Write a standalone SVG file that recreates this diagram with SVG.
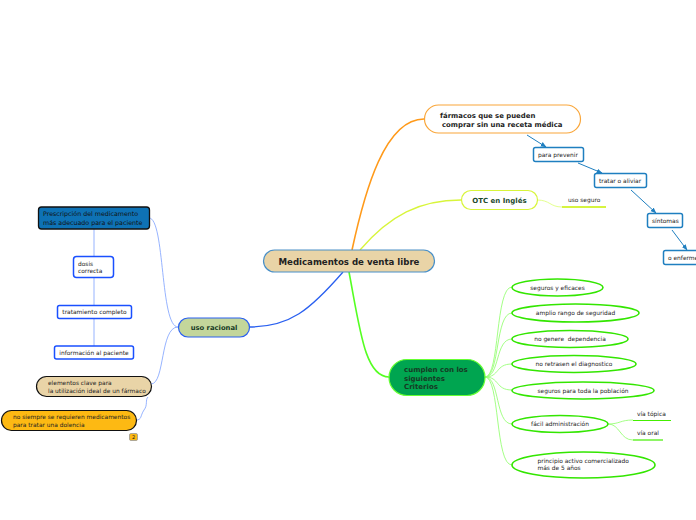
<svg xmlns="http://www.w3.org/2000/svg" width="696" height="520" viewBox="0 0 696 520">
<defs>
<marker id="arr" viewBox="0 0 10 10" refX="9" refY="5" markerWidth="6" markerHeight="6" orient="auto"><path d="M0,1 L10,5 L0,9 z" fill="#1f7fc0"/></marker>
<style>
text{font-family:"DejaVu Sans","Liberation Sans",sans-serif;fill:#222;}
.b{font-weight:bold;}
.s{font-size:5.9px;}
.m{font-size:6.3px;}
.blu{fill:#fff;stroke:#1f7fc0;stroke-width:1.5;}
.ell{fill:#fff;stroke:#33e600;stroke-width:1.6;}
.gc{fill:none;stroke:#99ff77;stroke-width:0.9;}
.bc{fill:none;stroke:#8aaaff;stroke-width:0.9;}
.ar{fill:none;stroke:#1f7fc0;stroke-width:1;marker-end:url(#arr);}
.lb{fill:#fff;stroke:#1a50ff;stroke-width:1.5;}
</style>
</defs>
<rect width="696" height="520" fill="#fff"/>
<g id="connectors">
<path d="M352,250 C365,190 385,119 424,119" fill="none" stroke="#ff9a1a" stroke-width="1.6"/>
<path d="M360,250 C390,215 420,200 461,200" fill="none" stroke="#d8f53a" stroke-width="1.3"/>
<path d="M349,272 C360,330 365,377 389,377" fill="none" stroke="#55ff22" stroke-width="1.6"/>
<path d="M343,272 C310,310 290,327 249,327" fill="none" stroke="#2a60f0" stroke-width="1.3"/>
<path d="M537,200 C550,200 550,207 562,207" fill="none" stroke="#e0ff80" stroke-width="0.9"/>
<path class="ar" d="M527,135 L546,147"/>
<path class="ar" d="M578,163 L602,173"/>
<path class="ar" d="M631,190 L656,213"/>
<path class="ar" d="M672,230 L687,250"/>
<path class="gc" d="M485,377 C500,377 495,287 512,287"/>
<path class="gc" d="M485,377 C500,377 495,313 512,313"/>
<path class="gc" d="M485,377 C500,377 495,339 512,339"/>
<path class="gc" d="M485,377 C500,377 495,364 512,364"/>
<path class="gc" d="M485,377 C500,377 495,390 512,390"/>
<path class="gc" d="M485,377 C500,377 495,424 512,424"/>
<path class="gc" d="M485,377 C500,377 495,465 512,465"/>
<path class="gc" d="M608,424 C620,424 620,420 633,420"/>
<path class="gc" d="M608,424 C620,424 620,440 633,440"/>
<path class="bc" d="M178,327 C160,327 165,218 149,218"/>
<path class="bc" d="M178,327 C160,327 165,384 151,384"/>
<path class="bc" d="M148,397 C145,400 148,405 144,410 C140,416 142,420 136,420"/>
<path class="bc" d="M94,229 L94,256 M94,277 L94,305 M94,318 L94,346"/>
</g>
<g id="central">
<rect x="263.5" y="250" width="171" height="22" rx="11" fill="#e9d4a7" stroke="#4a90c8" stroke-width="1.2"/>
<text x="349" y="264.5" text-anchor="middle" class="b" font-size="8.6">Medicamentos de venta libre</text>
</g>
<g id="farmacos">
<rect x="424.5" y="105" width="156" height="28" rx="14" fill="#fff" stroke="#f9a63a" stroke-width="1.2"/>
<text x="440" y="118" class="b" font-size="6.9">fármacos que se pueden</text>
<text x="442" y="127" class="b" font-size="6.9">comprar sin una receta médica</text>
</g>
<g id="prevenir"><rect class="blu" x="533.5" y="147.5" width="50" height="14" rx="2"/><text x="538" y="157" class="s">para prevenir</text></g>
<g id="tratar"><rect class="blu" x="594.5" y="173.5" width="52" height="14" rx="2"/><text x="599" y="183" class="s">tratar o aliviar</text></g>
<g id="sintomas"><rect class="blu" x="647.5" y="213.5" width="35" height="14" rx="2"/><text x="652" y="223" class="s">síntomas</text></g>
<g id="enfermedades"><rect class="blu" x="663.5" y="250.5" width="60" height="14" rx="2"/><text x="668" y="260" class="s">o enfermedades</text></g>
<g id="otc">
<rect x="461.5" y="190.5" width="76" height="19" rx="9.5" fill="#fff" stroke="#d8f53a" stroke-width="1.2"/>
<text x="499.5" y="203" text-anchor="middle" class="b" font-size="7" style="fill:#1c4a2c">OTC en Inglés</text>
</g>
<g id="usoseguro"><text x="568" y="202" class="s">uso seguro</text><line x1="562" y1="207" x2="606" y2="207" stroke="#c8f000" stroke-width="1.3"/></g>
<g id="cumplen">
<rect x="389" y="359.5" width="96" height="36" rx="18" fill="#00a550" stroke="#66ff33" stroke-width="1.2"/>
<text x="404" y="372" class="b" font-size="7" style="fill:#163a24">cumplen con los</text>
<text x="404" y="380.5" class="b" font-size="7" style="fill:#163a24">siguientes</text>
<text x="404" y="389" class="b" font-size="7" style="fill:#163a24">Criterios</text>
</g>
<g id="c1"><ellipse class="ell" cx="557.5" cy="287.5" rx="45.5" ry="8.5"/><text x="557.5" y="289.5" text-anchor="middle" class="s">seguros y eficaces</text></g>
<g id="c2"><ellipse class="ell" cx="575.5" cy="313" rx="63.5" ry="9"/><text x="575.5" y="315" text-anchor="middle" class="s">amplio rango de seguridad</text></g>
<g id="c3"><ellipse class="ell" cx="570" cy="339" rx="58" ry="8.5"/><text x="570" y="341" text-anchor="middle" class="s" xml:space="preserve">no genere  dependencia</text></g>
<g id="c4"><ellipse class="ell" cx="574" cy="364" rx="62" ry="8.5"/><text x="574" y="366" text-anchor="middle" class="s">no retrasen el diagnostico</text></g>
<g id="c5"><ellipse class="ell" cx="583" cy="390.5" rx="71" ry="8.5"/><text x="583" y="392.5" text-anchor="middle" class="s">seguros para toda la población</text></g>
<g id="c6"><ellipse class="ell" cx="560" cy="424" rx="48" ry="8.5"/><text x="560" y="426" text-anchor="middle" class="s">fácil administración</text></g>
<g id="c7"><ellipse class="ell" cx="583.5" cy="465" rx="71.5" ry="13"/><text x="537.5" y="462.5" class="s">principio activo comercializado</text><text x="537.5" y="470" class="s">más de 5 años</text></g>
<g id="topica"><text x="637" y="416" class="s">vía tópica</text><line x1="633" y1="420.5" x2="671" y2="420.5" stroke="#44ee00" stroke-width="1.2"/></g>
<g id="oral"><text x="637" y="435" class="s">vía oral</text><line x1="633" y1="440" x2="663" y2="440" stroke="#44ee00" stroke-width="1.2"/></g>
<g id="usoracional">
<rect x="178.5" y="318" width="71" height="19" rx="9.5" fill="#c3d69b" stroke="#2a60f0" stroke-width="1.2"/>
<text x="214" y="330" text-anchor="middle" class="b" font-size="6.8" style="fill:#163a24">uso racional</text>
</g>
<g id="prescripcion">
<rect x="38.5" y="207" width="111" height="22" rx="3" fill="#0e72b5" stroke="#111" stroke-width="1.3"/>
<text x="43" y="216" class="m" style="fill:#111">Prescripción del medicamento</text>
<text x="43" y="224.5" class="m" style="fill:#111">más adecuado para el paciente</text>
</g>
<g id="dosis"><rect class="lb" x="73.5" y="256.5" width="40" height="21" rx="3"/><text x="78" y="266" class="s">dosis</text><text x="78" y="273" class="s">correcta</text></g>
<g id="tratamiento"><rect class="lb" x="57.5" y="305.5" width="74" height="13" rx="2"/><text x="94.5" y="314" text-anchor="middle" class="s">tratamiento completo</text></g>
<g id="informacion"><rect class="lb" x="54.5" y="346" width="79" height="13" rx="2"/><text x="94" y="354.5" text-anchor="middle" class="s">información al paciente</text></g>
<g id="elementos">
<rect x="36.5" y="376.5" width="115" height="20" rx="10" fill="#e9d4a7" stroke="#111" stroke-width="1.2"/>
<text x="48" y="385" class="s">elementos clave para</text>
<text x="48" y="392.5" class="s">la utilización ideal de un fármaco</text>
</g>
<g id="nosiempre">
<rect x="1.5" y="410.5" width="135" height="20" rx="10" fill="#fdb913" stroke="#111" stroke-width="1.2"/>
<text x="13" y="419" class="s">no siempre se requieren medicamentos</text>
<text x="13" y="426.5" class="s">para tratar una dolencia</text>
</g>
<g id="badge"><rect x="129.5" y="433.5" width="8" height="7" rx="1.5" fill="#fdb913" stroke="#999" stroke-width="0.8"/><text x="133.5" y="439" text-anchor="middle" font-size="5">2</text></g>
</svg>
